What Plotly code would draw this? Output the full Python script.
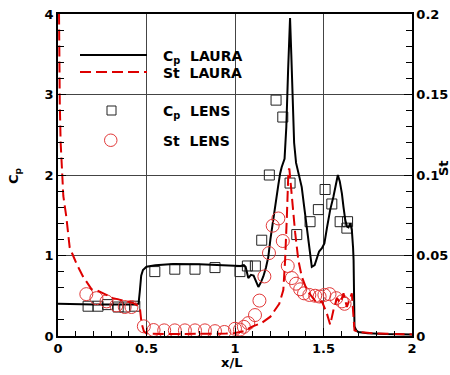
import plotly.graph_objects as go

# Surface pressure coefficient, LAURA computation
cp_laura_x = [0.0, 0.2, 0.44, 0.455, 0.462, 0.47, 0.48, 0.5, 0.55, 0.65, 0.8, 0.9, 1.0, 1.03, 1.05,
              1.06, 1.075, 1.09, 1.105, 1.12, 1.132, 1.145, 1.16, 1.175, 1.188, 1.2, 1.217, 1.23,
              1.245, 1.255, 1.264, 1.28, 1.29, 1.30, 1.311, 1.318, 1.325, 1.334, 1.345, 1.36,
              1.377, 1.39, 1.406, 1.42, 1.434, 1.45, 1.462, 1.475, 1.491, 1.505, 1.52, 1.538,
              1.556, 1.57, 1.581, 1.592, 1.604, 1.613, 1.623, 1.633, 1.641, 1.651, 1.66, 1.667,
              1.67, 1.675, 1.685, 1.696, 1.75, 1.85, 2.0]
cp_laura = [0.40, 0.39, 0.39, 0.40, 0.55, 0.75, 0.82, 0.86, 0.88, 0.895, 0.89, 0.88, 0.87, 0.87, 0.88,
            0.86, 0.72, 0.76, 0.75, 0.66, 0.61, 0.66, 0.74, 0.85, 0.98, 1.2, 1.48, 1.7,
            1.88, 2.02, 2.10, 2.2, 2.6, 3.3, 3.95, 3.5, 2.93, 2.4, 2.15, 2.0,
            1.85, 1.62, 1.35, 1.05, 0.86, 0.88, 0.95, 1.05, 1.09, 1.15, 1.35, 1.57,
            1.73, 1.9, 2.0, 1.92, 1.77, 1.6, 1.44, 1.36, 1.35, 1.40, 1.32, 1.1,
            0.94, 0.12, 0.07, 0.05, 0.035, 0.025, 0.02]

# Stanton number, LAURA computation
st_laura_x = [0.002, 0.006, 0.01, 0.015, 0.02, 0.03, 0.047, 0.066, 0.085, 0.104, 0.141, 0.19, 0.217,
              0.26, 0.311, 0.37, 0.424, 0.462, 0.472, 0.485, 0.5, 0.6, 0.8, 0.95, 1.0, 1.05, 1.1,
              1.15, 1.2, 1.25, 1.273, 1.283, 1.293, 1.302, 1.307, 1.321, 1.34, 1.358, 1.377,
              1.406, 1.434, 1.462, 1.491, 1.519, 1.538, 1.556, 1.576, 1.595, 1.613, 1.632, 1.66,
              1.667, 1.675, 1.7, 1.8, 2.0]
st_laura = [0.25, 0.17, 0.145, 0.12, 0.105, 0.087, 0.074, 0.055, 0.05, 0.045, 0.037, 0.029, 0.0285,
            0.026, 0.0235, 0.022, 0.0205, 0.018, 0.008, 0.003, 0.0015, 0.0012, 0.0012, 0.0015, 0.0018, 0.003, 0.006,
            0.008, 0.012, 0.02, 0.0285, 0.047, 0.074, 0.103, 0.104, 0.085, 0.064, 0.047, 0.037,
            0.0285, 0.0245, 0.0205, 0.0215, 0.014, 0.007, 0.016, 0.0235, 0.0205, 0.0265, 0.018, 0.0265,
            0.012, 0.0035, 0.0025, 0.0015, 0.001]

# LENS measurements
cp_lens_x = [0.17, 0.226, 0.28, 0.34, 0.377, 0.434, 0.547, 0.66, 0.774, 0.887, 1.028, 1.07, 1.115,
             1.151, 1.194, 1.232, 1.27, 1.311, 1.349, 1.424, 1.471, 1.509, 1.547, 1.594, 1.636, 1.632]
cp_lens = [0.37, 0.37, 0.39, 0.36, 0.36, 0.37, 0.80, 0.83, 0.83, 0.85, 0.80, 0.87, 0.87,
           1.19, 2.0, 2.93, 2.72, 1.90, 1.26, 1.42, 1.57, 1.82, 1.64, 1.42, 1.42, 1.34]

st_lens_x = [0.16, 0.217, 0.274, 0.33, 0.377, 0.415, 0.485, 0.54, 0.60, 0.66, 0.717, 0.774, 0.83,
             0.887, 0.94, 1.0, 1.028, 1.05, 1.075, 1.113, 1.138, 1.166, 1.192, 1.213, 1.245, 1.27,
             1.298, 1.321, 1.345, 1.368, 1.39, 1.42, 1.453, 1.478, 1.505, 1.534, 1.572, 1.604, 1.619]
st_lens = [0.026, 0.0235, 0.0215, 0.019, 0.018, 0.018, 0.006, 0.0037, 0.0035, 0.0035, 0.0035, 0.0035, 0.0035,
           0.003, 0.0025, 0.0045, 0.004, 0.0057, 0.008, 0.013, 0.022, 0.037, 0.0515, 0.0685, 0.073, 0.059,
           0.0435, 0.036, 0.0325, 0.029, 0.0265, 0.0255, 0.025, 0.0245, 0.0255, 0.026, 0.0235, 0.0215, 0.020]

BLACK = "#000000"
RED = "#dd0000"
CIRCLE = "#e23a3a"
FONT = "DejaVu Sans"

fig = go.Figure()

fig.add_trace(go.Scatter(x=cp_lens_x, y=cp_lens, mode="markers", yaxis="y",
                         marker=dict(symbol="square-open", size=10, color="#222222",
                                     line=dict(width=1)),
                         showlegend=False))
fig.add_trace(go.Scatter(x=cp_laura_x, y=cp_laura, mode="lines", yaxis="y",
                         line=dict(color=BLACK, width=2), showlegend=False))
fig.add_trace(go.Scatter(x=st_lens_x, y=st_lens, mode="markers", yaxis="y2",
                         marker=dict(symbol="circle-open", size=13, color=CIRCLE,
                                     line=dict(width=1)),
                         showlegend=False))
fig.add_trace(go.Scatter(x=st_laura_x, y=st_laura, mode="lines", yaxis="y2",
                         line=dict(color=RED, width=2, dash="11px,5px"), showlegend=False))

W, H = 450, 375
L, R, T, B = 58, 38, 14, 39
pw, ph = W - L - R, H - T - B


def px(x):
    return (x - L) / pw


def py(y):
    return (H - B - y) / ph


# Legend drawn in paper space
shapes = [
    dict(type="line", xref="paper", yref="paper", x0=px(80), x1=px(147), y0=py(55), y1=py(55),
         line=dict(color=BLACK, width=2)),
    dict(type="line", xref="paper", yref="paper", x0=px(80), x1=px(147), y0=py(72), y1=py(72),
         line=dict(color=RED, width=2, dash="11px,5px")),
    dict(type="rect", xref="paper", yref="paper", x0=px(107), x1=px(116), y0=py(106), y1=py(115),
         line=dict(color="#222222", width=1)),
    dict(type="circle", xref="paper", yref="paper", x0=px(104.5), x1=px(117), y0=py(134), y1=py(146.5),
         line=dict(color=CIRCLE, width=1)),
]

leg_font = dict(family=FONT, size=14, color=BLACK, weight="bold")
annotations = []
for text, yy in [("C<sub>p</sub>  LAURA", 57), ("St  LAURA", 73), ("C<sub>p</sub>  LENS", 112),
                 ("St  LENS", 141)]:
    annotations.append(dict(text=text, xref="paper", yref="paper", x=px(161), y=py(yy),
                            xanchor="left", yanchor="middle", showarrow=False, font=leg_font))

title_font = dict(family=FONT, size=13, color=BLACK, weight="bold")
annotations += [
    dict(text="x/L", xref="paper", yref="paper", x=px(231), y=py(362), xanchor="center",
         yanchor="middle", showarrow=False, font=title_font),
    dict(text="C<sub>p</sub>", xref="paper", yref="paper", x=px(15), y=py(176), xanchor="center",
         yanchor="middle", showarrow=False, textangle=-90, font=title_font),
    dict(text="St", xref="paper", yref="paper", x=px(443), y=py(168), xanchor="center",
         yanchor="middle", showarrow=False, textangle=-90, font=title_font),
]

tick_font = dict(family=FONT, size=13, color=BLACK, weight="bold")
grid = "#444444"

fig.update_layout(
    width=W, height=H, autosize=False,
    margin=dict(l=L, r=R, t=T, b=B, pad=0, autoexpand=False),
    paper_bgcolor="white", plot_bgcolor="white",
    showlegend=False,
    shapes=shapes, annotations=annotations,
    xaxis=dict(range=[0, 2], dtick=0.5, tick0=0, showgrid=True, gridcolor=grid, gridwidth=1,
               automargin=False,
               zeroline=False, showline=True, linecolor=BLACK, linewidth=1.5, mirror=True,
               ticks="inside", ticklen=8, tickcolor=BLACK, tickwidth=1, tickfont=tick_font,
               tickformat="~g",
               minor=dict(ticks="inside", dtick=0.1, ticklen=5, tickcolor=BLACK, showgrid=False)),
    yaxis=dict(range=[0, 4], dtick=1, tick0=0, showgrid=True, gridcolor=grid, gridwidth=1,
               automargin=False,
               zeroline=False, showline=True, linecolor=BLACK, linewidth=1.5,
               ticks="inside", ticklen=8, tickcolor=BLACK, tickwidth=1, tickfont=tick_font,
               minor=dict(ticks="inside", dtick=0.2, ticklen=6, tickcolor=BLACK, showgrid=False)),
    yaxis2=dict(range=[0, 0.2], dtick=0.05, tick0=0, overlaying="y", side="right",
                automargin=False,
                showgrid=False, zeroline=False, showline=True, linecolor=BLACK, linewidth=1.5,
                ticks="inside", ticklen=8, tickcolor=BLACK, tickwidth=1, tickfont=tick_font,
                tickformat="~g",
                minor=dict(ticks="inside", dtick=0.01, ticklen=6, tickcolor=BLACK, showgrid=False)),
)

fig.write_html("out.html")
